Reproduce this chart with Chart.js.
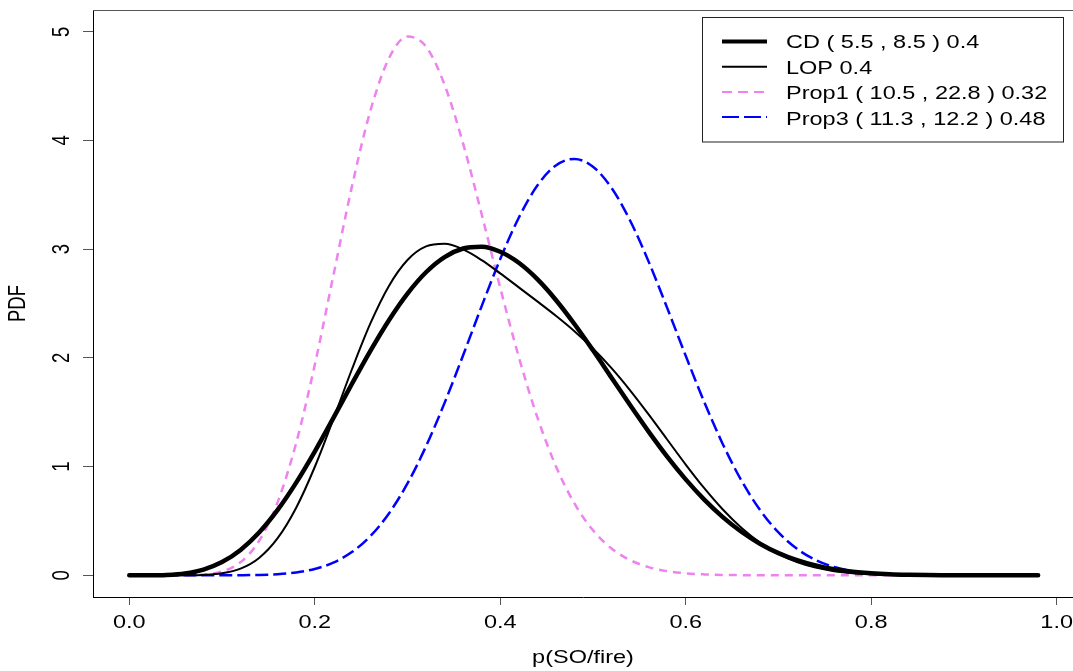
<!DOCTYPE html>
<html><head><meta charset="utf-8">
<script src="https://cdn.jsdelivr.net/npm/chart.js@4.4.1/dist/chart.umd.min.js"></script>
<style>html,body{margin:0;padding:0;background:#fff;overflow:hidden}canvas{display:block}</style>
</head><body>
<canvas id="c" width="1073" height="671"></canvas>
<script>
const xs = [0.00,0.02,0.04,0.06,0.08,0.10,0.12,0.14,0.16,0.18,0.20,0.22,0.24,0.26,0.28,0.30,0.32,0.34,0.36,0.38,0.40,0.42,0.44,0.46,0.48,0.50,0.52,0.54,0.56,0.58,0.60,0.62,0.64,0.66,0.68,0.70,0.72,0.74,0.76,0.78,0.80,0.82,0.84,0.86,0.88,0.90,0.92,0.94,0.96,0.98];
const cdValues = [0,0.0002,0.0032,0.0169,0.0526,0.1216,0.2334,0.3932,0.6010,0.8522,1.1378,1.4449,1.7591,2.0646,2.3466,2.5914,2.7876,2.9271,3.0056,3.0213,2.9759,2.8744,2.7238,2.5326,2.3112,2.0694,1.8178,1.5655,1.3212,1.0915,0.8818,0.6956,0.5349,0.4002,0.2905,0.2040,0.1380,0.0896,0.0554,0.0324,0.0178,0.0090,0.0042,0.0017,0.0006,0.0002,0,0,0,0];
const lopValues = [0,0,0,0.0004,0.0034,0.0175,0.0608,0.1596,0.3413,0.6217,0.9960,1.4352,1.8929,2.3168,2.6619,2.9002,3.0249,3.0488,2.9973,2.8987,2.7769,2.6486,2.5194,2.3871,2.2452,2.0863,1.9054,1.7017,1.4801,1.2488,1.0187,0.8009,0.6048,0.4371,0.3014,0.1971,0.1216,0.0703,0.0378,0.0186,0.0083,0.0033,0.0012,0.0003,0.0001,0,0,0,0,0];
const prop1Values = [0,0,0,0.0007,0.0067,0.0348,0.1206,0.3159,0.6726,1.2176,1.9341,2.7541,3.5727,4.2732,4.7548,4.9558,4.8630,4.5116,3.9703,3.3215,2.6454,2.0084,1.4540,1.0038,0.6605,0.4140,0.2468,0.1397,0.0749,0.0379,0.0181,0.0081,0.0034,0.0013,0.0005,0.0002,0,0,0,0,0,0,0,0,0,0,0,0,0,0];
const prop3Values = [0,0,0,0,0,0.0002,0.0009,0.0033,0.0100,0.0258,0.0579,0.1163,0.2130,0.3604,0.5689,0.8446,1.1867,1.5860,2.0243,2.4759,2.9084,3.2888,3.5847,3.7703,3.8299,3.7586,3.5640,3.2636,2.8852,2.4596,2.0192,1.5936,1.2061,0.8729,0.6022,0.3940,0.2431,0.1406,0.0755,0.0372,0.0166,0.0066,0.0023,0.0006,0.0001,0,0,0,0,0];
const xTickValues = [0, 0.2, 0.4, 0.6, 0.8, 1.0];
const yTickValues = [0, 1, 2, 3, 4, 5];
const seriesLabels = ['CD ( 5.5 , 8.5 ) 0.4', 'LOP 0.4', 'Prop1 ( 10.5 , 22.8 ) 0.32', 'Prop3 ( 11.3 , 12.2 ) 0.48'];
const xTitle = 'p(SO/fire)';
const yTitle = 'PDF';

const FONT = "'Liberation Sans', Arial, Helvetica, sans-serif";
const FS = 18.5;
const SX = 1.27;

function series(vals) { return xs.map((x, i) => ({ x: x, y: vals[i] })); }

const stretchPlugin = {
  id: 'stretchText',
  beforeInit(chart) {
    const ctx = chart.ctx;
    const orig = ctx.fillText;
    ctx.fillText = function (t, x, y, mw) {
      const m = this.getTransform();
      const p = m.transformPoint(new DOMPoint(x, y));
      this.save();
      this.setTransform(new DOMMatrix().translate(p.x, p.y).scale(SX, 1).translate(-p.x, -p.y).multiply(m));
      orig.call(this, t, x, y);
      this.restore();
    };
  }
};

const boxPlugin = {
  id: 'boxAndLegend',
  afterDraw(chart) {
    const ctx = chart.ctx;
    const a = chart.chartArea;
    ctx.save();
    ctx.strokeStyle = '#555';
    ctx.lineWidth = 1;
    ctx.beginPath();
    ctx.moveTo(a.left, Math.round(a.top) + 0.5);
    ctx.lineTo(a.right, Math.round(a.top) + 0.5);
    ctx.stroke();
    // legend
    ctx.strokeStyle = '#222';
    ctx.strokeRect(702.5, 17.5, 361, 124.5);
    const widths = [4, 2, 2, 2];
    const dashes = [[], [], [10, 6], [17, 5]];
    chart.data.datasets.forEach((ds, i) => {
      const ly = 41.5 + 25.2 * i;
      const ty = 43 + 25.6 * i;
      ctx.strokeStyle = ds.borderColor;
      ctx.lineWidth = widths[i];
      ctx.setLineDash(dashes[i]);
      ctx.lineCap = 'butt';
      ctx.beginPath();
      ctx.moveTo(722, ly);
      ctx.lineTo(767, ly);
      ctx.stroke();
      ctx.setLineDash([]);
      ctx.fillStyle = '#000';
      ctx.font = FS + 'px ' + FONT;
      ctx.textBaseline = 'middle';
      ctx.textAlign = 'left';
      ctx.fillText(ds.label, 786, ty);
    });
    ctx.restore();
  }
};

const common = { pointRadius: 0, pointHoverRadius: 0, fill: false, cubicInterpolationMode: 'monotone', borderJoinStyle: 'round' };

new Chart(document.getElementById('c'), {
  type: 'line',
  data: {
    datasets: [
      Object.assign({ label: seriesLabels[0], data: series(cdValues), borderColor: '#000000', borderWidth: 4.5, borderCapStyle: 'round', order: 1 }, common),
      Object.assign({ label: seriesLabels[1], data: series(lopValues), borderColor: '#000000', borderWidth: 2, borderCapStyle: 'round', order: 2 }, common),
      Object.assign({ label: seriesLabels[2], data: series(prop1Values), borderColor: '#EE82EE', borderWidth: 2.5, borderDash: [8, 6], order: 4 }, common),
      Object.assign({ label: seriesLabels[3], data: series(prop3Values), borderColor: '#0000FF', borderWidth: 2.5, borderDash: [13, 5], order: 3 }, common)
    ]
  },
  options: {
    responsive: false,
    animation: false,
    devicePixelRatio: 1,
    layout: { padding: { left: 0, top: 10, right: 0, bottom: 0 } },
    plugins: { legend: { display: false }, tooltip: { enabled: false } },
    scales: {
      x: {
        type: 'linear', min: -0.0391, max: 1.0176,
        afterBuildTicks: s => { s.ticks = xTickValues.map(v => ({ value: v })); },
        afterFit: s => { s.height = 74; s.paddingLeft = 0; s.paddingRight = 0; s.paddingTop = 0; s.paddingBottom = 0; },
        ticks: { callback: v => Number(v).toFixed(1), font: { family: FONT, size: FS }, color: '#000', padding: 7, maxRotation: 0, autoSkip: false },
        grid: { drawOnChartArea: false, tickLength: 8, color: '#555' },
        border: { display: true, color: '#000', width: 1 },
        title: { display: true, text: xTitle, font: { family: FONT, size: FS }, color: '#000', padding: { top: 0, bottom: 2 } }
      },
      y: {
        type: 'linear', min: -0.2, max: 5.2,
        afterBuildTicks: s => { s.ticks = yTickValues.map(v => ({ value: v })); },
        afterFit: s => { s.width = 93; s.paddingTop = 0; s.paddingBottom = 0; s.paddingLeft = 0; s.paddingRight = 0; },
        ticks: { callback: v => String(v), font: { family: FONT, size: FS }, color: '#000', padding: 15, minRotation: 90, maxRotation: 90, crossAlign: 'center', autoSkip: false },
        grid: { drawOnChartArea: false, tickLength: 10, color: '#555' },
        border: { display: true, color: '#000', width: 1 },
        title: { display: true, text: yTitle, font: { family: FONT, size: FS }, color: '#000', padding: { top: 7, bottom: 0 } }
      }
    }
  },
  plugins: [stretchPlugin, boxPlugin]
});
</script>
</body></html>
